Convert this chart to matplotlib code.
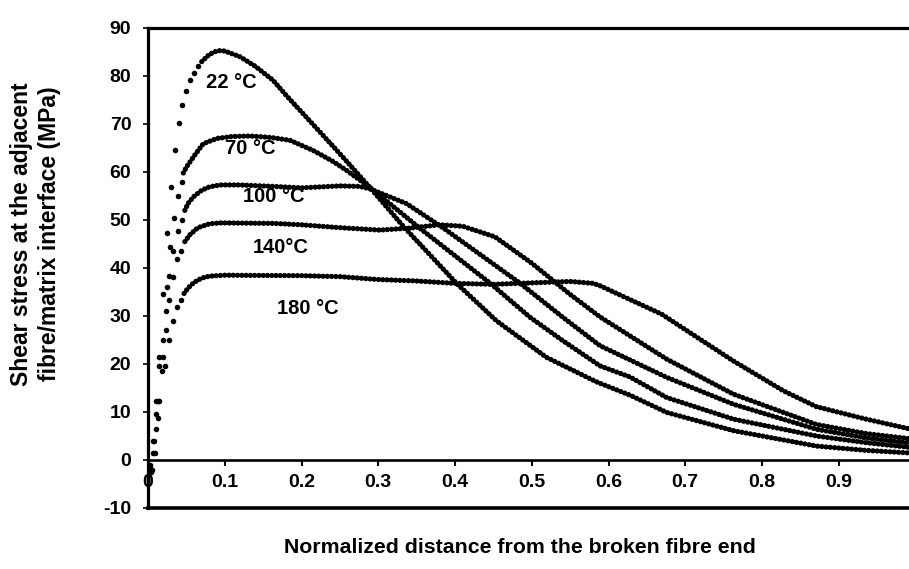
import matplotlib.pyplot as plt

plt.rcParams["font.family"] = ["Liberation Sans", "DejaVu Sans"]
plt.rcParams["font.weight"] = "bold"
plt.rcParams["axes.unicode_minus"] = False

# Sparse dots on the steep initial rise of each curve
rise_22_x = [0.002, 0.006, 0.010, 0.0147, 0.0195, 0.0243, 0.030, 0.0352, 0.040, 0.0447, 0.050, 0.0552, 0.0595, 0.065]
rise_22_y = [-1.0, 4.0, 12.3, 21.4, 34.6, 47.2, 56.9, 64.5, 70.3, 73.9, 76.9, 79.1, 80.7, 82.0]
rise_70_x = [0.002, 0.0065, 0.011, 0.0147, 0.0191, 0.0243, 0.0287, 0.0343, 0.0395, 0.0439]
rise_70_y = [-1.5, 1.5, 9.5, 19.5, 25.0, 36.0, 44.3, 50.4, 55.1, 57.9]
rise_100_x = [0.003, 0.0075, 0.0126, 0.0178, 0.0234, 0.0278, 0.033, 0.0387, 0.0439]
rise_100_y = [-2.0, 4.0, 12.3, 18.6, 31.1, 38.4, 43.6, 47.7, 50.0]
rise_140_x = [0.004, 0.009, 0.0134, 0.0191, 0.0234, 0.0278, 0.033, 0.0374, 0.0426]
rise_140_y = [-2.5, 1.5, 8.8, 21.4, 27.1, 33.4, 38.1, 41.9, 43.6]
rise_180_x = [0.005, 0.010, 0.0147, 0.022, 0.0278, 0.033, 0.0374, 0.0426]
rise_180_y = [-2.0, 6.4, 12.3, 19.5, 25.0, 28.9, 31.8, 33.4]

# Dense part of each curve
body_22_x = [0.070, 0.080, 0.088, 0.094, 0.100, 0.120, 0.140, 0.163, 0.181, 0.207, 0.250, 0.289,
             0.332, 0.402, 0.454, 0.519, 0.584, 0.628, 0.676, 0.763, 0.871, 0.936, 1.0]
body_22_y = [83.0, 84.5, 85.1, 85.3, 85.2, 84.0, 82.0, 79.1, 75.8, 71.3, 63.8, 56.8,
             48.8, 36.8, 29.0, 21.4, 16.3, 13.5, 9.9, 6.1, 2.9, 2.0, 1.4]
body_70_x = [0.046, 0.050, 0.059, 0.072, 0.090, 0.110, 0.133, 0.160, 0.185, 0.215, 0.240, 0.259,
             0.289, 0.354, 0.446, 0.498, 0.541, 0.589, 0.628, 0.676, 0.763, 0.871, 0.936, 1.0]
body_70_y = [59.8, 61.0, 63.1, 65.9, 67.0, 67.4, 67.5, 67.2, 66.6, 64.5, 62.3, 60.3,
             56.8, 48.3, 36.8, 29.7, 24.8, 19.6, 17.3, 13.0, 8.5, 5.0, 3.6, 2.5]
body_100_x = [0.048, 0.052, 0.059, 0.070, 0.080, 0.094, 0.120, 0.163, 0.200, 0.250, 0.276, 0.289,
              0.337, 0.385, 0.485, 0.540, 0.589, 0.676, 0.763, 0.871, 0.936, 1.0]
body_100_y = [52.0, 53.4, 54.8, 56.2, 56.9, 57.3, 57.3, 57.0, 56.7, 57.1, 57.0, 56.5,
              53.4, 48.3, 36.8, 29.8, 23.8, 17.2, 11.6, 6.4, 4.6, 3.4]
body_140_x = [0.048, 0.055, 0.065, 0.080, 0.094, 0.163, 0.200, 0.250, 0.302, 0.340, 0.380, 0.410,
              0.452, 0.500, 0.550, 0.589, 0.676, 0.763, 0.871, 0.936, 1.0]
body_140_y = [45.5, 47.0, 48.4, 49.2, 49.4, 49.3, 49.0, 48.4, 47.9, 48.3, 49.0, 48.7,
              46.5, 41.0, 34.5, 29.8, 21.0, 13.7, 7.4, 5.5, 4.3]
body_180_x = [0.047, 0.052, 0.060, 0.070, 0.080, 0.100, 0.200, 0.250, 0.300, 0.350, 0.400, 0.450,
              0.500, 0.550, 0.580, 0.589, 0.669, 0.762, 0.828, 0.871, 0.936, 1.0]
body_180_y = [34.7, 35.8, 37.0, 37.9, 38.3, 38.5, 38.4, 38.2, 37.6, 37.3, 36.8, 36.6,
              36.9, 37.2, 36.8, 36.3, 30.4, 20.7, 14.4, 11.1, 8.5, 6.2]

curve_labels = ["22 °C", "70 °C", "100 °C", "140°C", "180 °C"]
label_x = [0.108, 0.133, 0.164, 0.173, 0.208]
label_y = [78.6, 64.9, 54.8, 44.3, 31.5]

x_ticks = [0, 0.1, 0.2, 0.3, 0.4, 0.5, 0.6, 0.7, 0.8, 0.9, 1.0]
x_tick_labels = ["0", "0.1", "0.2", "0.3", "0.4", "0.5", "0.6", "0.7", "0.8", "0.9", "1"]
y_ticks = [-10, 0, 10, 20, 30, 40, 50, 60, 70, 80, 90]

W, H = 909, 569
fig = plt.figure(figsize=(W / 100, H / 100), dpi=100)
ax = fig.add_axes([148 / W, 1 - 508 / H, 767.5 / W, 480 / H])

rises = [(rise_22_x, rise_22_y), (rise_70_x, rise_70_y), (rise_100_x, rise_100_y),
         (rise_140_x, rise_140_y), (rise_180_x, rise_180_y)]
bodies = [(body_22_x, body_22_y), (body_70_x, body_70_y), (body_100_x, body_100_y),
          (body_140_x, body_140_y), (body_180_x, body_180_y)]

for (rx, ry), (bx, by) in zip(rises, bodies):
    ax.plot(bx, by, color="black", lw=3.8, linestyle=(0, (0.01, 0.8)),
            dash_capstyle="round", solid_capstyle="round")
    ax.plot(rx, ry, "o", color="black", ms=4.0, mew=0)

for text, tx, ty in zip(curve_labels, label_x, label_y):
    ax.text(tx, ty, text, ha="center", va="center", fontsize=14.5, fontweight="bold")

ax.set_xlim(0, 1)
ax.set_ylim(-10, 90)
ax.set_xticks(x_ticks)
ax.set_xticklabels(x_tick_labels)
ax.set_yticks(y_ticks)

for side in ["left", "top", "bottom"]:
    ax.spines[side].set_linewidth(2.3)
ax.spines["right"].set_visible(False)
ax.spines["bottom"].set_position(("data", 0))
ax.spines["bottom"].set_linewidth(1.9)
ax.axhline(-10, color="black", lw=2.6, clip_on=False)

ax.tick_params(axis="x", direction="out", length=4.5, width=1.5, pad=5.5, labelsize=14)
ax.tick_params(axis="y", direction="out", length=3.5, width=1.2, pad=8.5, labelsize=14)

fig.text(520 / W, 1 - 553 / H, "Normalized distance from the broken fibre end",
         ha="center", va="baseline", fontsize=15.3, fontweight="bold")
fig.text(35.5 / W, 1 - 234 / H, "Shear stress at the adjacent\nfibre/matrix interface (MPa)",
         ha="center", va="center", rotation=90, multialignment="center",
         linespacing=1.27, fontsize=16.5, fontweight="bold")

fig.savefig("out.png", dpi=100)
